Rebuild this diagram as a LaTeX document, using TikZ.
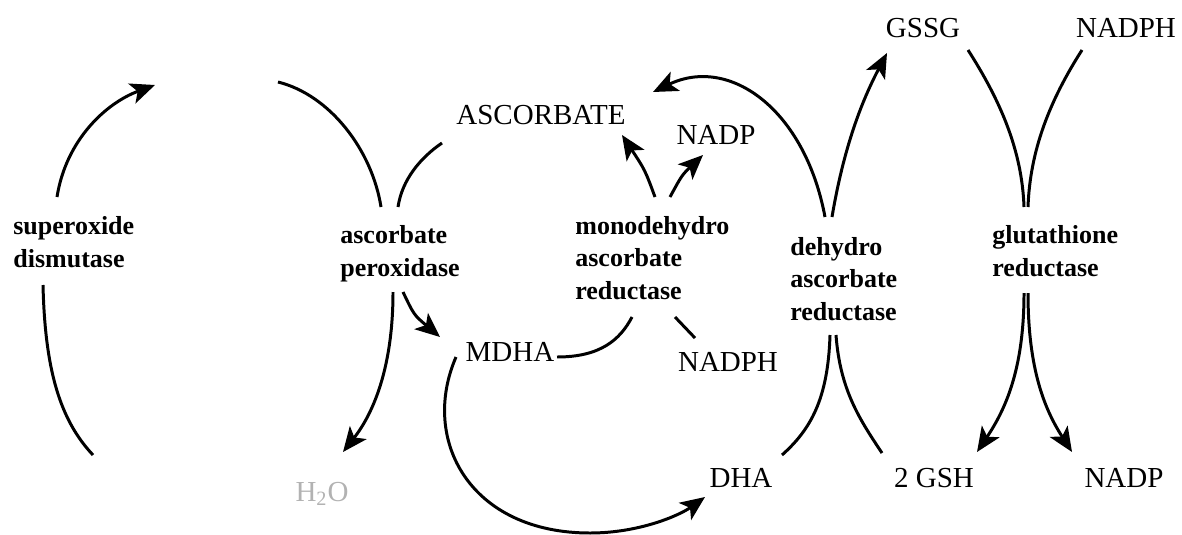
\documentclass[tikz,border=0pt]{standalone}
\usepackage{fontspec}
\setmainfont{Liberation Serif}
\usetikzlibrary{arrows.meta}

\begin{document}
\begin{tikzpicture}[x=0.02cm, y=-0.02cm,
	enz/.style={font=\fontsize{14.8}{18.7}\selectfont\bfseries, align=left, anchor=west, inner sep=0pt},
	met/.style={font=\fontsize{16.5}{19}\selectfont, inner sep=0pt},
	link/.style={line width=1.7pt},
	arr/.style={line width=1.7pt, -{Stealth[length=14pt, width=12pt, inset=3.5pt]}}]

	\useasboundingbox (0,0) rectangle (1182,534);

	\node[enz] (sod) at (13,242) {superoxide\\dismutase};
	\node[enz] (apx) at (340,254) {ascorbate\\peroxidase};
	\node[enz] (mdr) at (575,258) {monodehydro\\ascorbate\\reductase};
	\node[enz] (dhar) at (790,279) {dehydro\\ascorbate\\reductase};
	\node[enz] (gr) at (992,251) {glutathione\\reductase};

	\node[met] (asc) at (541,115) {ASCORBATE};
	\node[met] (nadp1) at (716,135) {NADP};
	\node[met] (mdha) at (510,352) {MDHA};
	\node[met] (nadph1) at (728,362) {NADPH};
	\node[met] (gssg) at (923,28) {GSSG};
	\node[met] (nadph2) at (1126,28) {NADPH};
	\node[met] (dha) at (741,478) {DHA};
	\node[met] (gsh) at (934,478) {2 GSH};
	\node[met] (nadp2) at (1124,478) {NADP};
	\node[met, text=black!30] (water) at (322,494) {H\textsubscript{2}O};

	\coordinate (s1) at (57,197);
	\coordinate (s2) at (155,85);
	\coordinate (s3) at (43,285);
	\coordinate (s4) at (93,455);

	\coordinate (a1) at (278,82);
	\coordinate (a2) at (381,207);
	\coordinate (a3) at (398,207);
	\coordinate (a4) at (442,143);
	\coordinate (a5) at (393,292);
	\coordinate (a6) at (343,452);
	\coordinate (a7) at (403,292);
	\coordinate (a8) at (440,337);

	\coordinate (m1) at (456,357);
	\coordinate (m2) at (705,497);
	\coordinate (m3) at (557,357);
	\coordinate (m4) at (632,317);

	\coordinate (r1) at (655,197);
	\coordinate (r2) at (622,135);
	\coordinate (r3) at (670,197);
	\coordinate (r4) at (703,155);
	\coordinate (r5) at (675,317);
	\coordinate (r6) at (695,338);

	\coordinate (d1) at (825,217);
	\coordinate (d2) at (653,92);
	\coordinate (d3) at (832,217);
	\coordinate (d4) at (887,53);
	\coordinate (d5) at (830,335);
	\coordinate (d6) at (782,455);
	\coordinate (d7) at (836,335);
	\coordinate (d8) at (882,453);

	\coordinate (g1) at (968,50);
	\coordinate (g2) at (1024,207);
	\coordinate (g3) at (1082,50);
	\coordinate (g4) at (1028,207);
	\coordinate (g5) at (1024,293);
	\coordinate (g6) at (977,452);
	\coordinate (g7) at (1028,293);
	\coordinate (g8) at (1072,452);

	\draw[arr] (s1) .. controls (66,140) and (106,103) .. (s2);
	\draw[link] (s3) .. controls (45,370) and (60,420) .. (s4);

	\draw[link] (a1) .. controls (330,95) and (372,150) .. (a2);
	\draw[link] (a3) .. controls (402,180) and (420,158) .. (a4);
	\draw[arr] (a5) .. controls (393,370) and (372,415) .. (a6);
	\draw[arr] (a7) .. controls (414,315) .. (a8);

	\draw[arr] (m1) .. controls (420,440) and (470,533) .. (590,533) .. controls (640,533) and (680,515) .. (m2);
	\draw[link] (m3) .. controls (600,357) and (620,340) .. (m4);

	\draw[arr] (r1) .. controls (645,170) .. (r2);
	\draw[arr] (r3) .. controls (682,175) .. (r4);
	\draw[link] (r5) -- (r6);

	\draw[arr] (d1) .. controls (805,110) and (730,55) .. (d2);
	\draw[arr] (d3) .. controls (845,140) and (865,95) .. (d4);
	\draw[link] (d5) .. controls (828,400) and (810,430) .. (d6);
	\draw[link] (d7) .. controls (840,390) and (860,420) .. (d8);

	\draw[link] (g1) .. controls (1000,100) and (1022,150) .. (g2);
	\draw[link] (g3) .. controls (1050,100) and (1030,150) .. (g4);
	\draw[arr] (g5) .. controls (1024,370) and (1005,410) .. (g6);
	\draw[arr] (g7) .. controls (1028,370) and (1045,410) .. (g8);

\end{tikzpicture}
\end{document}
